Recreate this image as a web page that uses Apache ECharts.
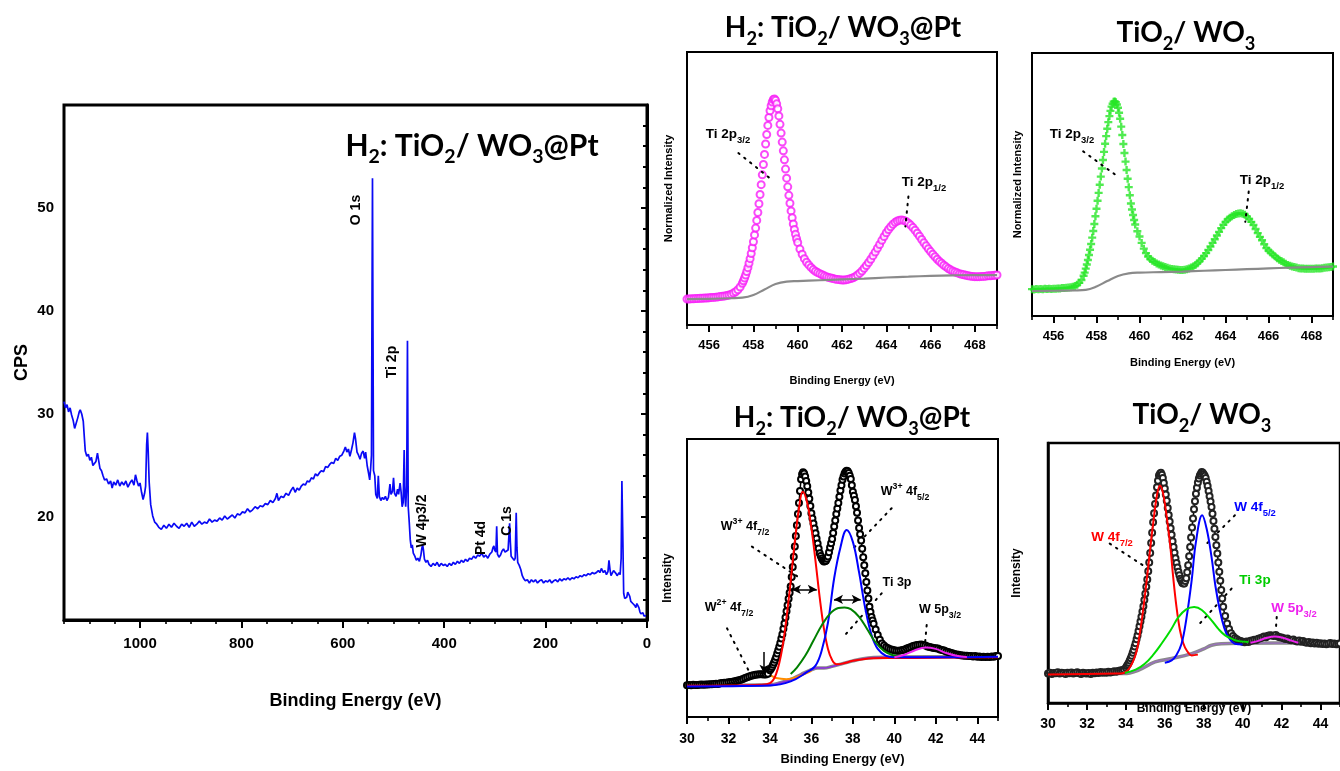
<!DOCTYPE html>
<html>
<head>
<meta charset="utf-8">
<script src="https://cdn.jsdelivr.net/npm/echarts@6/dist/echarts.min.js"></script>
<style>
html, body { margin: 0; padding: 0; background: #fff; }
#main { width: 1340px; height: 771px; }
</style>
</head>
<body>
<div id="main"></div>
<script>
// survey spectrum [binding energy, CPS]
const surveyData = [
  [1150,31.2],[1147,30.6],[1144,30.9],[1141,30.2],[1138,30.6],[1135,29.9],[1132,29.4],[1129,28.6],[1126,29.1],[1123,29.6],
  [1120,30.2],[1118,30.4],[1115,30.0],[1112,29.3],[1110,27.8],[1108,26.4],[1105,25.9],[1102,26.1],[1099,25.5],[1096,25.8],
  [1093,25.0],[1090,24.9],[1087,25.4],[1084,26.2],[1082,25.6],[1079,24.7],[1076,24.5],[1073,24.0],[1070,23.6],[1066,23.7],
  [1062,23.2],[1058,23.5],[1055,22.8],[1052,23.4],[1048,23.1],[1044,23.6],[1040,23.0],[1036,23.4],[1032,23.1],[1028,23.5],
  [1024,22.9],[1020,23.3],[1016,23.6],[1012,23.1],[1009,24.1],[1006,23.5],[1003,23.0],[1000,23.3],[997,22.4],[994,21.7],
  [991,22.3],[989,23.0],[987,27.0],[985.5,28.2],[984,26.5],[982,23.4],[979,21.2],[975,20.1],[971,19.5],[967,19.3],
  [963,19.0],[958,18.8],[953,19.2],[948,18.9],[943,19.3],[938,19.0],[933,19.4],[928,19.1],[923,18.9],[918,19.3],
  [913,19.1],[908,19.4],[903,19.0],[898,19.5],[893,19.1],[888,19.3],[883,19.6],[878,19.3],[873,19.5],[868,19.4],
  [863,19.8],[858,19.5],[853,19.7],[848,19.6],[843,19.9],[838,19.7],[833,20.1],[828,19.8],[823,20.0],[818,20.2],
  [813,19.9],[808,20.3],[803,20.2],[798,20.5],[793,20.4],[788,20.8],[783,20.5],[778,20.7],[773,21.0],[768,20.8],
  [763,21.1],[758,21.0],[753,21.3],[748,21.2],[743,21.6],[738,21.4],[733,21.8],[730,22.3],[727,21.6],[722,22.0],
  [717,21.9],[712,22.3],[707,22.1],[702,22.6],[698,22.9],[694,22.4],[690,22.8],[686,22.6],[682,23.0],[678,23.2],
  [674,23.1],[670,23.5],[666,23.4],[662,23.8],[658,23.7],[654,24.2],[650,24.0],[646,24.3],[642,24.5],[638,24.4],
  [634,24.9],[630,24.8],[626,25.1],[622,25.3],[618,25.2],[614,25.7],[610,25.5],[606,25.9],[602,26.0],[598,26.4],
  [595,26.8],[592,26.3],[589,26.6],[586,25.9],[583,26.5],[580,27.2],[577,28.2],[575,27.6],[572,26.3],[569,26.0],
  [566,25.6],[563,26.2],[560,26.4],[557,25.7],[555,26.3],[552,25.0],[549,24.2],[547,23.6],[545,24.8],[543.5,26.0],
  [542.5,40.0],[541.5,52.9],[540.5,38.0],[539.5,24.5],[537,24.0],[535,22.2],[532,21.8],[530,24.0],[528,22.0],[525,21.6],
  [522,21.9],[519,21.7],[516,22.0],[513,21.6],[510,21.9],[507,23.2],[505,22.2],[502,22.5],[500,23.8],[498,22.3],
  [495,22.0],[492,22.7],[490,22.2],[487,23.3],[485,22.4],[483,21.0],[481,21.4],[479,26.5],[477.5,22.0],[476,21.0],
  [474,23.0],[472.5,37.1],[471,21.0],[469,19.5],[467,17.8],[465,17.0],[463,17.3],[461,16.5],[458,16.2],[455,15.8],
  [452,16.0],[449,15.7],[446,16.3],[444,17.0],[442.5,17.3],[441,16.8],[439,15.9],[436,15.6],[433,15.8],[430,15.4],
  [426,15.2],[422,15.5],[418,15.3],[414,15.6],[410,15.2],[406,15.5],[402,15.3],[398,15.4],[394,15.2],[390,15.5],
  [386,15.3],[382,15.6],[378,15.4],[374,15.7],[370,15.5],[366,15.8],[362,15.6],[358,15.9],[354,15.7],[350,16.0],
  [346,15.9],[342,16.2],[338,16.0],[334,16.3],[330,16.2],[326,16.5],[322,16.1],[318,16.3],[314,16.0],[310,16.4],
  [306,16.6],[304,17.0],[302,17.2],[300.5,16.8],[298,16.6],[296.5,19.1],[295,16.4],[292,16.1],[289,16.3],[286,16.7],
  [283,16.9],[280,16.6],[277,16.5],[274,16.8],[271,19.4],[269.5,17.5],[268,16.2],[265,16.3],[262,15.8],[260,16.0],
  [258,20.4],[256.5,17.0],[255,15.6],[252,15.3],[249,14.9],[246,14.3],[243,14.0],[240,13.8],[236,13.9],[232,13.6],
  [228,13.9],[224,13.7],[220,13.9],[216,13.6],[212,13.8],[208,13.9],[204,13.6],[200,13.8],[196,13.7],[192,13.9],
  [188,13.6],[184,13.8],[180,13.9],[176,13.7],[172,14.0],[168,13.8],[164,14.0],[160,13.9],[156,14.1],[152,13.9],
  [148,14.1],[144,14.0],[140,14.2],[136,14.1],[132,14.3],[128,14.2],[124,14.4],[120,14.3],[116,14.5],[112,14.4],
  [108,14.6],[104,14.5],[100,14.6],[96,14.8],[93,14.6],[90,15.0],[88,15.1],[86,14.6],[83,14.8],[80,14.4],
  [77,14.7],[75,15.8],[73,14.9],[71,14.3],[69,14.5],[66,14.8],[63,14.9],[61,14.5],[59,14.3],[57,14.2],
  [55,14.6],[53,14.4],[51,16.0],[49.5,23.5],[48,19.0],[46,12.6],[44,12.1],[42,12.0],[40,12.2],[38,12.7],
  [36,12.8],[34,12.3],[32,11.8],[30,11.9],[28,11.6],[26,11.5],[24,11.4],[22,11.2],[20,11.6],[18,11.7],
  [16,11.2],[14,10.8],[12,10.6],[10,10.5],[8,10.7],[6,10.4],[4,10.5],[2,10.4]
];
const surveyTicks = [0, 200, 400, 600, 800, 1000];
const cpsTicks = [20, 30, 40, 50];

// Ti 2p, 455 -> 469 eV every 0.1 eV, plus extra readings on the steep flanks
const ti2pStart = 455, ti2pStep = 0.1;
const ti2pTicks = [456, 458, 460, 462, 464, 466, 468];
const ti2pH2 = [
  9.5,9.5,9.6,9.6,9.7,9.7,9.8,9.8,9.9,9.9,
  10.0,10.1,10.1,10.2,10.3,10.4,10.5,10.6,10.8,11.0,
  11.3,11.7,12.2,12.9,13.9,15.3,17.2,19.6,22.6,26.2,
  30.5,35.5,41.2,47.8,55.0,62.5,69.8,76.0,80.3,82.6,
  82.3,79.2,73.5,67.0,60.5,53.8,47.5,41.8,37.0,33.2,
  30.2,27.8,25.9,24.3,23.0,22.0,21.1,20.3,19.7,19.2,
  18.8,18.4,18.0,17.7,17.4,17.2,17.0,16.8,16.7,16.6,
  16.5,16.5,16.6,16.8,17.0,17.3,17.7,18.3,19.0,19.8,
  20.8,21.8,22.9,24.1,25.4,26.7,28.1,29.5,31.0,32.4,
  33.8,35.0,36.0,36.9,37.6,38.1,38.4,38.5,38.3,37.9,
  37.3,36.6,35.7,34.7,33.6,32.5,31.3,30.1,29.0,27.9,
  26.9,25.9,25.0,24.1,23.3,22.6,21.9,21.3,20.7,20.2,
  19.8,19.4,19.1,18.8,18.6,18.4,18.2,18.0,17.9,17.8,
  17.7,17.7,17.7,17.8,17.8,17.9,18.0,18.0,18.1,18.2,
  18.3
];
// 457.55 -> 459.95 eV every 0.1 eV
const ti2pH2Flank = [
  16.2,18.3,21.0,24.3,28.3,33.0,38.3,44.4,51.4,58.8,
  66.3,73.1,78.5,81.7,82.8,81.0,76.6,70.3,63.8,57.1,
  50.6,44.6,39.3,35.0,31.6
];
const ti2pH2Bg = [[455,9.5],[456,9.6],[457,9.8],[457.5,10.0],[458,11.0],[458.5,13.0],[459,15.0],[459.5,15.9],[460,16.1],
  [461,16.4],[462,16.7],[463,17.0],[464,17.4],[465,17.7],[466,18.0],[467,18.2],[468,18.3],[469,18.3]];
const ti2pTW = [
  10.2,10.1,10.3,10.2,10.3,10.2,10.4,10.3,10.4,10.3,
  10.4,10.4,10.5,10.5,10.6,10.6,10.7,10.8,10.9,11.1,
  11.4,11.9,12.6,13.7,15.3,18.0,21.3,25.2,29.8,35.0,
  40.8,46.8,53.0,59.3,65.5,71.2,76.0,79.6,81.5,81.3,
  79.2,75.0,68.8,62.0,55.5,49.0,42.8,38.4,34.8,32.2,
  30.2,27.8,25.6,23.9,22.6,21.7,21.0,20.5,20.0,19.6,
  19.2,18.9,18.6,18.3,18.1,17.9,17.8,17.7,17.6,17.5,
  17.5,17.6,17.8,18.1,18.4,18.8,19.4,20.1,20.9,21.8,
  22.8,23.9,25.1,26.4,27.8,29.2,30.6,32.0,33.4,34.7,
  35.8,36.7,37.4,37.9,38.4,38.8,39.0,39.1,38.9,38.5,
  37.8,36.9,35.8,34.6,33.1,31.5,30.1,28.8,27.3,25.8,
  24.9,24.1,23.4,22.7,22.0,21.4,20.9,20.4,19.9,19.4,
  19.1,18.8,18.6,18.4,18.2,18.1,18.1,18.0,18.0,18.0,
  18.0,18.0,18.1,18.1,18.1,18.2,18.3,18.4,18.5,18.6,
  18.8
];
// 457.45 -> 459.75 eV every 0.1 eV
const ti2pTWFlank = [
  16.5,19.6,23.2,27.4,32.3,37.9,43.8,49.9,56.1,62.4,
  68.4,73.7,78.0,80.7,81.6,80.4,77.3,72.0,65.4,58.7,
  52.2,45.9,40.5,36.5
];
const ti2pTWBg = [[455,9.5],[456,9.6],[457,9.7],[457.5,9.9],[458,11.2],[458.5,13.3],[459,15.2],[459.5,16.2],[460,16.5],
  [461,16.7],[462,16.9],[463,17.2],[464,17.5],[465,17.8],[466,18.1],[467,18.4],[468,18.6],[469,18.8]];

// W 4f, 30 -> 45 eV every 0.1 eV, plus extra readings 34.05 -> 38.95 eV
const w4fStart = 30, w4fStep = 0.1;
const w4fTicks = [30, 32, 34, 36, 38, 40, 42, 44];
const w4fH2 = [
  11.4,11.5,11.4,11.6,11.5,11.5,11.6,11.7,11.6,11.7,
  11.7,11.8,11.8,11.9,12.0,11.9,12.1,12.2,12.3,12.3,
  12.5,12.6,12.7,12.9,13.0,13.2,13.4,13.7,14.0,14.3,
  14.6,14.8,15.0,15.2,15.3,15.4,15.4,15.3,15.3,15.6,
  16.8,18.0,19.6,21.6,24.0,26.6,29.8,33.6,38.0,42.5,
  46.9,54.0,61.3,69.0,77.0,85.5,88.0,86.5,83.0,78.5,
  73.3,69.6,66.1,62.4,58.9,57.0,55.9,56.2,57.7,61.0,
  64.0,68.5,73.0,77.0,81.5,85.3,87.6,88.6,87.8,85.6,
  81.0,78.1,73.5,68.0,63.5,57.5,51.7,45.5,39.7,36.0,
  33.5,31.5,29.5,27.8,26.4,25.7,25.1,24.7,24.4,24.2,
  24.0,23.8,23.8,23.9,24.1,24.3,24.6,24.9,25.2,25.5,
  25.7,25.9,26.0,26.1,25.9,25.7,25.4,25.2,25.0,24.8,
  24.7,24.6,24.3,24.1,23.9,23.6,23.4,23.1,22.9,22.7,
  22.5,22.4,22.2,22.1,22.0,22.0,21.9,21.9,21.8,21.9,
  21.7,21.8,21.6,21.7,21.6,21.7,21.6,21.8,21.7,21.9,
  21.9
];
const w4fH2Flank = [
  17.4,18.8,20.6,22.8,25.3,28.2,31.7,35.8,40.2,44.7,
  50.4,57.6,65.1,73.0,81.3,87.3,87.6,84.9,80.8,75.9,
  71.4,67.8,64.2,60.6,57.9,56.4,56.0,56.9,59.3,62.5,
  66.2,70.7,75.0,79.2,83.4,86.5,88.2,88.4,86.8,83.4,
  79.6,75.8,70.7,65.7,60.5,54.6,48.6,42.6,37.8,34.7
];
const w4fH2Red = [[30,11.2],[32,11.3],[33.5,11.6],[34,12.2],[34.3,15.5],[34.6,25],[34.9,42],[35.2,63],[35.4,75],[35.58,81],
  [35.8,77],[36.0,68],[36.2,56],[36.4,43],[36.6,32],[36.8,24.5],[37.0,20.5],[37.2,19.0],[37.5,19.2],[38,20.2],[38.5,20.8],
  [39,21.1],[40,21.2],[42,21.3],[45,21.5]];
const w4fH2Blue = [[30,11.0],[34,11.3],[35,12.8],[35.8,16.2],[36.2,18.5],[36.5,24],[36.8,34],[37.1,50],[37.4,61],[37.7,67.3],
  [38.0,63],[38.3,52],[38.6,39],[38.9,29.5],[39.2,24.5],[39.6,22],[40,21.5],[42,21.5],[45,21.7]];
const w4fH2Ti3p = [[35.0,15.5],[35.3,17.8],[35.7,22],[36.1,27.5],[36.5,33],[36.9,37.2],[37.3,39.2],[37.6,39.4],[37.9,38.8],
  [38.3,36],[38.7,31.5],[39.1,26.8],[39.5,23.8],[39.9,22.3],[40.3,21.8]];
const w4fH2W2 = [[31.5,11.5],[32.3,12.0],[32.8,13.2],[33.2,14.6],[33.6,15.4],[34.0,15.0],[34.3,14.0],[34.8,13.6],[35.5,15.0],[36.0,16.6]];
const w4fH2W5p = [[40.0,21.5],[40.5,22.4],[41.0,24.0],[41.5,25.0],[42.0,24.5],[42.5,23.0],[43.0,22.0],[43.5,21.6]];
const w4fH2Bg = [[30,11.4],[34,11.6],[34.5,12.3],[35,13.5],[35.5,15.3],[36,17.0],[36.3,17.6],[36.6,17.6],[37,18.2],[37.5,19.2],
  [38,20.2],[38.5,21.0],[39,21.4],[40,21.6],[45,21.7]];

const w4fTW = [
  11.3,11.6,11.2,11.5,11.4,11.8,11.3,11.6,11.5,11.2,
  11.6,11.4,11.7,11.3,11.5,11.8,11.4,11.2,11.6,11.4,
  11.3,11.5,11.2,11.6,11.4,11.7,11.5,11.9,11.6,11.8,
  11.6,12.0,11.7,11.9,12.2,12.0,12.3,12.5,12.6,12.9,
  13.6,14.8,16.3,18.2,20.4,23.0,26.0,29.5,33.2,37.2,
  42.0,47.5,54.0,61.5,69.5,76.5,83.0,87.5,88.6,86.5,
  82.5,77.8,72.3,67.2,62.2,57.8,53.8,50.5,47.8,46.2,
  46.0,48.0,53.0,60.0,67.5,74.5,80.5,84.8,87.5,88.8,
  88.0,86.5,83.5,79.5,75.4,70.0,63.8,57.5,50.5,43.5,
  37.0,33.5,30.6,28.5,26.8,25.8,25.0,24.5,24.0,23.8,
  23.6,23.4,23.7,23.5,23.9,24.0,24.3,24.2,24.7,24.9,
  25.2,25.6,25.3,25.9,26.1,26.0,25.8,26.2,25.6,25.3,
  25.2,24.9,24.6,24.8,24.3,24.1,24.4,23.9,23.7,24.0,
  23.6,23.8,23.4,23.2,23.5,23.0,23.3,22.9,23.2,22.8,
  23.0,22.7,22.9,22.6,22.8,23.1,22.7,22.9,22.6,22.8,
  22.9
];
const w4fTWFlank = [
  14.2,15.5,17.2,19.3,21.7,24.5,27.7,31.3,35.2,39.6,
  44.7,50.7,57.7,65.5,73.0,79.8,85.5,88.2,87.8,84.6,
  80.2,75.0,69.8,64.7,60.0,55.7,52.1,49.1,47.0,46.0,
  46.9,50.3,56.4,63.7,71.0,77.6,82.8,86.3,88.2,88.6,
  87.4,85.1,81.5,77.5,72.8,67.0,60.7,54.0,47.0,40.2
];
const w4fTWRed = [[30,11.0],[33.5,11.3],[34,12],[34.46,17.7],[34.7,26],[34.97,40.8],[35.2,56],[35.4,69],[35.6,80],[35.75,83.7],
  [35.9,81],[36.1,71.5],[36.3,59],[36.43,48.5],[36.6,37],[36.78,28],[36.95,23],[37.12,20.3],[37.38,18.3],[37.7,18.6]];
const w4fTWBlue = [[36.0,15.5],[36.35,16.4],[36.6,18.5],[36.86,22.8],[37.1,32],[37.38,47.2],[37.6,62],[37.92,72.2],[38.15,67],
  [38.4,56.2],[38.6,45],[38.83,35.6],[39.05,29],[39.26,25.4],[39.6,22.8],[40,22.5]];
const w4fTWTi3p = [[33.95,11.5],[34.5,12.8],[34.97,15.1],[35.4,18.5],[35.83,22.8],[36.3,28],[36.7,33],[37.1,36],[37.51,36.9],
  [37.9,35.8],[38.4,31.8],[38.75,28.5],[39.1,26],[39.5,24.5],[39.8,23.8],[40.3,23.5]];
const w4fTWW5p = [[40.4,23.2],[40.8,23.9],[41.2,25.0],[41.66,25.6],[42.1,25.0],[42.5,24.0],[42.86,23.2]];
const w4fTWBg = [[30,11.3],[33.9,11.3],[34.63,12.6],[35.5,15.8],[36.35,17.1],[37.38,19.0],[38.0,20.8],[38.4,22.2],[38.9,22.8],
  [40,23.0],[45,23.1]];

const toPairs = (x0, step, ys) => ys.map((y, i) => [Math.round((x0 + i * step) * 100) / 100, y]);
const merge = (a, b) => a.concat(b).sort((p, q) => p[0] - q[0]);

const AX = 'Liberation Sans';
const TT = 'Lato';

const grids = [
  { left: 64, top: 105, width: 583, height: 515, bw: 3 },
  { left: 687, top: 52, width: 310, height: 273, bw: 2 },
  { left: 1032, top: 53, width: 301, height: 263, bw: 2 },
  { left: 687, top: 439, width: 311, height: 278, bw: 2 },
  { left: 1048, top: 443, width: 294, height: 260, bw: 2.5 }
];

function mainX(gi, min, max, labels, o) {
  return {
    gridIndex: gi, type: 'value', min: min, max: max, inverse: !!o.inverse, position: 'bottom',
    axisLine: { lineStyle: { color: '#000', width: grids[gi].bw } },
    axisTick: { customValues: labels, length: o.tick, lineStyle: { color: '#000', width: 2 } },
    axisLabel: {
      customValues: labels, margin: o.margin, fontSize: o.fs, fontWeight: 'bold', color: '#000', fontFamily: AX,
      formatter: v => String(v)
    },
    splitLine: { show: false },
    name: 'Binding Energy (eV)', nameLocation: 'middle', nameGap: o.gap, nameMoveOverlap: false,
    nameTextStyle: { fontSize: o.nfs, fontWeight: 'bold', color: '#000', fontFamily: AX }
  };
}
function minorX(gi, min, max, interval, inverse, len) {
  return {
    gridIndex: gi, type: 'value', min: min, max: max, interval: interval, inverse: inverse, position: 'bottom',
    axisLine: { show: false },
    axisTick: { length: len, lineStyle: { color: '#000', width: 1.6 } },
    axisLabel: { show: false }, splitLine: { show: false }
  };
}
function smallY(gi, name, gap) {
  return {
    gridIndex: gi, type: 'value', min: 0, max: 100,
    axisLine: { lineStyle: { color: '#000', width: grids[gi].bw } },
    axisTick: { show: false }, axisLabel: { show: false }, splitLine: { show: false },
    name: name, nameLocation: 'middle', nameGap: gap,
    nameTextStyle: { fontSize: gi >= 3 ? 12 : 11, fontWeight: 'bold', color: '#000', fontFamily: AX }
  };
}

function line(xi, data, color, width, z) {
  return {
    type: 'line', xAxisIndex: xi, yAxisIndex: xi, data: data, showSymbol: false, smooth: 0.4,
    lineStyle: { color: color, width: width }, z: z || 2, silent: true
  };
}
const dotted = { color: '#000', width: 2, type: [1.5, 6], cap: 'round' };
function leaders(pairs) {
  return {
    silent: true, symbol: ['none', 'none'], label: { show: false }, lineStyle: dotted,
    data: pairs.map(p => [{ coord: p[0] }, { coord: p[1] }])
  };
}

// rich text helpers
function richLbl(size, color) {
  const base = { fontFamily: AX, fontWeight: 'bold', fill: color };
  return {
    n: Object.assign({ fontSize: size, lineHeight: size + 8, verticalAlign: 'middle' }, base),
    b: Object.assign({ fontSize: size * 0.7, lineHeight: size * 0.7, verticalAlign: 'bottom' }, base),
    p: Object.assign({ fontSize: size * 0.7, lineHeight: size * 0.7, verticalAlign: 'top' }, base)
  };
}
function richTitle(size) {
  const base = { fontFamily: TT, fontWeight: 'bold', fill: '#000' };
  return {
    n: Object.assign({ fontSize: size, lineHeight: size + 12, verticalAlign: 'middle' }, base),
    b: Object.assign({ fontSize: size * 0.65, lineHeight: size * 0.65, verticalAlign: 'bottom' }, base)
  };
}
function txt(x, y, text, rich, rot) {
  return {
    type: 'text', x: x, y: y, rotation: rot || 0, z: 100,
    style: { text: text, rich: rich, align: 'center', verticalAlign: 'middle' }
  };
}
const H2T = '{n|H}{b|2}{n|: TiO}{b|2}{n|/ WO}{b|3}{n|@Pt}';
const TWT = '{n|TiO}{b|2}{n|/ WO}{b|3}';

const chart = echarts.init(document.getElementById('main'));

const option = {
  animation: false,
  backgroundColor: '#fff',
  grid: grids.map(g => ({
    left: g.left, top: g.top, width: g.width, height: g.height,
    show: true, borderColor: '#000', borderWidth: g.bw, backgroundColor: 'transparent'
  })),
  xAxis: [
    mainX(0, 0, 1150, surveyTicks, { inverse: true, tick: 8, margin: 16, fs: 15, gap: 72, nfs: 18 }),
    mainX(1, 455, 469, ti2pTicks, { tick: 7, margin: 14, fs: 13, gap: 50, nfs: 11 }),
    mainX(2, 455, 469, ti2pTicks, { tick: 7, margin: 14, fs: 13, gap: 41, nfs: 11 }),
    mainX(3, 30, 45, w4fTicks, { tick: 7, margin: 15, fs: 14, gap: 36, nfs: 13 }),
    mainX(4, 30, 45, w4fTicks, { tick: 7, margin: 14, fs: 14, gap: 0, nfs: 12 }),
    minorX(0, 0, 1150, 50, true, 4),
    minorX(1, 455, 469, 1, false, 4),
    minorX(2, 455, 469, 1, false, 4),
    minorX(3, 30, 45, 1, false, 4),
    minorX(4, 30, 45, 1, false, 4)
  ],
  yAxis: [
    {
      gridIndex: 0, type: 'value', min: 10, max: 60, interval: 10,
      axisLine: { lineStyle: { color: '#000', width: 3 } },
      axisTick: { length: 6, lineStyle: { color: '#000', width: 2 } },
      minorTick: { show: true, splitNumber: 5, length: 4, lineStyle: { color: '#000', width: 2 } },
      axisLabel: {
        margin: 10, fontSize: 15, fontWeight: 'bold', color: '#000', fontFamily: AX,
        formatter: v => (cpsTicks.indexOf(v) >= 0 ? String(v) : '')
      },
      splitLine: { show: false },
      name: 'CPS', nameLocation: 'middle', nameGap: 33,
      nameTextStyle: { fontSize: 18, fontWeight: 'bold', color: '#000', fontFamily: AX }
    },
    smallY(1, 'Normalized Intensity', 13),
    smallY(2, 'Normalized Intensity', 9),
    smallY(3, 'Intensity', 13),
    smallY(4, 'Intensity', 25)
  ],
  series: [
    // survey
    {
      type: 'line', xAxisIndex: 0, yAxisIndex: 0, data: surveyData, showSymbol: false,
      lineStyle: { color: '#0a0af5', width: 1.7 }, silent: true
    },
    // Ti 2p H2
    line(1, ti2pH2Bg, '#8a8a8a', 2.2, 3),
    {
      type: 'scatter', xAxisIndex: 1, yAxisIndex: 1,
      data: merge(toPairs(ti2pStart, ti2pStep, ti2pH2), toPairs(457.55, 0.1, ti2pH2Flank)),
      symbol: 'emptyCircle', symbolSize: 7, itemStyle: { color: '#f81cf8', borderWidth: 1.5 }, silent: true,
      markLine: leaders([[[457.32, 63.0], [458.83, 53.2]], [[465.0, 47.1], [464.86, 36.1]]])
    },
    // Ti 2p TiO2/WO3
    line(2, ti2pTWBg, '#8a8a8a', 2.2, 3),
    {
      type: 'scatter', xAxisIndex: 2, yAxisIndex: 2,
      data: merge(toPairs(ti2pStart, ti2pStep, ti2pTW), toPairs(457.45, 0.1, ti2pTWFlank)),
      symbol: 'path://M35,0H65V35H100V65H65V100H35V65H0V35H35Z', symbolSize: 8,
      itemStyle: { color: '#26e626' }, silent: true,
      markLine: leaders([[[457.38, 62.6], [458.88, 53.7]], [[465.08, 47.3], [464.92, 35.8]]])
    },
    // W 4f H2
    line(3, w4fH2Bg, '#8a8a8a', 3.5, 2),
    line(3, w4fH2Bg, '#8a2be2', 1.5, 3),
    line(3, w4fH2W2, '#ff8c00', 2, 3),
    line(3, w4fH2Red, '#ff0000', 2, 6),
    line(3, w4fH2Blue, '#0000ff', 2, 6),
    line(3, w4fH2Ti3p, '#008000', 2, 6),
    line(3, w4fH2W5p, '#ee22ee', 2, 6),
    {
      type: 'line', xAxisIndex: 3, yAxisIndex: 3,
      data: merge(toPairs(w4fStart, w4fStep, w4fH2), toPairs(34.05, 0.1, w4fH2Flank)),
      symbol: 'emptyCircle', symbolSize: 6, showSymbol: true, smooth: 0.3,
      lineStyle: { color: '#000', width: 1.5 }, itemStyle: { color: '#000', borderWidth: 1.1 }, z: 5, silent: true,
      markLine: leaders([
        [[33.13, 61.3], [35.46, 49.9]],
        [[39.87, 75.1], [37.95, 60.1]],
        [[39.39, 44.5], [37.54, 28.8]],
        [[41.56, 33.1], [41.48, 26.4]],
        [[31.93, 31.9], [33.13, 14.4]]
      ])
    },
    {
      type: 'line', xAxisIndex: 3, yAxisIndex: 3, data: [], silent: true, z: 7,
      markLine: {
        silent: true, symbol: ['arrow', 'arrow'], symbolSize: [7, 9], label: { show: false },
        lineStyle: { color: '#000', width: 1.5, type: 'solid' },
        data: [
          [{ coord: [35.06, 45.9] }, { coord: [36.26, 45.9] }],
          [{ coord: [37.09, 42.3] }, { coord: [38.38, 42.3] }],
          [{ coord: [33.72, 23.4], symbol: 'none' }, { coord: [33.72, 15.6], symbol: 'arrow' }]
        ]
      }
    },
    // W 4f TiO2/WO3
    line(4, w4fTWBg, '#8a8a8a', 3.5, 2),
    line(4, w4fTWBg, '#9b6fc0', 1.2, 3),
    line(4, w4fTWRed, '#ff0000', 2, 6),
    line(4, w4fTWBlue, '#0000ff', 2, 6),
    line(4, w4fTWTi3p, '#00dd00', 2, 6),
    line(4, w4fTWW5p, '#ee22ee', 2, 6),
    {
      type: 'line', xAxisIndex: 4, yAxisIndex: 4,
      data: merge(toPairs(w4fStart, w4fStep, w4fTW), toPairs(34.05, 0.1, w4fTWFlank)),
      symbol: 'emptyCircle', symbolSize: 6, showSymbol: true, smooth: 0.3,
      lineStyle: { color: '#000', width: 1.5 }, itemStyle: { color: '#222', borderWidth: 1.1 }, z: 5, silent: true,
      markLine: leaders([
        [[33.17, 61.3], [35.4, 50.4]],
        [[39.6, 72.2], [38.06, 60.6]],
        [[39.43, 44.0], [37.63, 29.2]],
        [[41.75, 33.1], [41.7, 27.9]]
      ])
    }
  ],
  graphic: [
    // titles
    txt(472, 146, H2T, richTitle(30)),
    txt(843, 28, H2T, richTitle(28)),
    txt(1186, 33, TWT, richTitle(28)),
    txt(852, 418, H2T, richTitle(28)),
    txt(1202, 415, TWT, richTitle(28)),
    // survey peak labels
    txt(356, 210, '{n|O 1s}', richLbl(14, '#000'), Math.PI / 2),
    txt(392, 362, '{n|Ti 2p}', richLbl(14, '#000'), Math.PI / 2),
    txt(422, 521, '{n|W 4p3/2}', richLbl(14, '#000'), Math.PI / 2),
    txt(481, 538, '{n|Pt 4d}', richLbl(14, '#000'), Math.PI / 2),
    txt(507, 521, '{n|C 1s}', richLbl(14, '#000'), Math.PI / 2),
    // Ti 2p labels
    txt(728, 134, '{n|Ti 2p}{b|3/2}', richLbl(13.5, '#000')),
    txt(924, 182, '{n|Ti 2p}{b|1/2}', richLbl(13.5, '#000')),
    txt(1072, 134, '{n|Ti 2p}{b|3/2}', richLbl(13.5, '#000')),
    txt(1262, 180, '{n|Ti 2p}{b|1/2}', richLbl(13.5, '#000')),
    // W 4f H2 labels
    txt(745, 527, '{n|W}{p|3+}{n| 4f}{b|7/2}', richLbl(12.5, '#000')),
    txt(905, 492, '{n|W}{p|3+}{n| 4f}{b|5/2}', richLbl(12.5, '#000')),
    txt(897, 583, '{n|Ti 3p}', richLbl(12.5, '#000')),
    txt(940, 610, '{n|W 5p}{b|3/2}', richLbl(12.5, '#000')),
    txt(729, 608, '{n|W}{p|2+}{n| 4f}{b|7/2}', richLbl(12.5, '#000')),
    // W 4f TiO2/WO3 labels
    txt(1112, 537, '{n|W 4f}{b|7/2}', richLbl(13.5, '#ff0000')),
    txt(1255, 507, '{n|W 4f}{b|5/2}', richLbl(13.5, '#0000ff')),
    txt(1255, 580, '{n|Ti 3p}', richLbl(13.5, '#00cc00')),
    txt(1294, 608, '{n|W 5p}{b|3/2}', richLbl(13.5, '#ee22ee'))
  ]
};

chart.setOption(option);
</script>
</body>
</html>
